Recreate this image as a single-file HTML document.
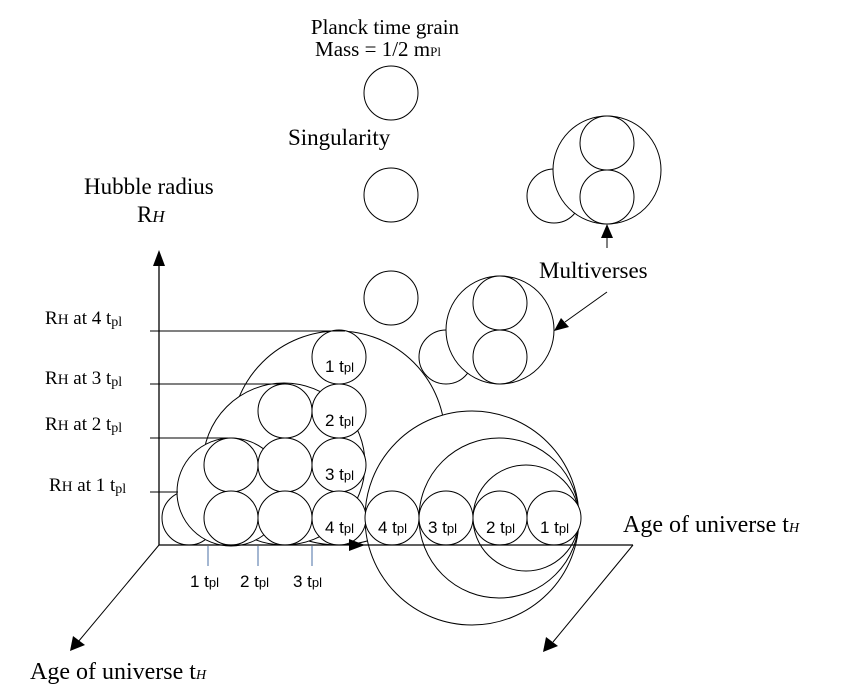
<!DOCTYPE html>
<html><head><meta charset="utf-8"><style>
html,body{margin:0;padding:0;background:#fff;}
svg{display:block;}
.s{font-family:"Liberation Serif",serif;fill:#000;}
.a{font-family:"Liberation Sans",sans-serif;fill:#000;}
</style></head><body>
<svg width="867" height="689" viewBox="0 0 867 689" xmlns="http://www.w3.org/2000/svg">
<g fill="#fff" stroke="#000" stroke-width="1">
<circle cx="391" cy="93" r="27"/>
<circle cx="391" cy="195" r="27"/>
<circle cx="391" cy="298" r="27"/>
<circle cx="554" cy="196" r="27"/>
<circle cx="607" cy="170" r="54"/>
<circle cx="607" cy="143" r="27"/>
<circle cx="607" cy="197" r="27"/>
<circle cx="446" cy="357" r="27"/>
<circle cx="500" cy="330" r="54"/>
<circle cx="500" cy="303" r="27"/>
<circle cx="500" cy="357" r="27"/>
<circle cx="338" cy="438" r="107"/>
<circle cx="284" cy="464" r="81"/>
<circle cx="472" cy="518" r="107"/>
<circle cx="499" cy="518" r="80"/>
<circle cx="526" cy="518" r="53"/>
<circle cx="189" cy="518" r="27"/>
<circle cx="231" cy="492" r="54"/>
<circle cx="231" cy="465" r="27"/>
<circle cx="231" cy="518" r="27"/>
<circle cx="285" cy="411" r="27"/>
<circle cx="285" cy="465" r="27"/>
<circle cx="285" cy="518" r="27"/>
<circle cx="339" cy="357" r="27"/>
<circle cx="339" cy="411" r="27"/>
<circle cx="339" cy="465" r="27"/>
<circle cx="339" cy="518" r="27"/>
<circle cx="392" cy="518" r="27"/>
<circle cx="446" cy="518" r="27"/>
<circle cx="500" cy="518" r="27"/>
<circle cx="554" cy="518" r="27"/>
</g>
<g fill="none" stroke="#000" stroke-width="1">
<line x1="159" y1="545" x2="633" y2="545" stroke-width="1.3"/>
<line x1="159" y1="545" x2="159" y2="262" stroke-width="1.3"/>
<line x1="159" y1="545" x2="78" y2="642"/>
<line x1="633" y1="545" x2="553" y2="642"/>
<line x1="150" y1="331" x2="345" y2="331"/>
<line x1="150" y1="384" x2="284" y2="384"/>
<line x1="150" y1="438" x2="228" y2="438"/>
<line x1="150" y1="492" x2="178" y2="492"/>
<line x1="607" y1="248" x2="607" y2="235"/>
<line x1="607" y1="292" x2="565" y2="322"/>
<g stroke="#4a6fa5">
<line x1="208" y1="546" x2="208" y2="566"/>
<line x1="258" y1="546" x2="258" y2="566"/>
<line x1="312" y1="546" x2="312" y2="566"/>
</g>
</g>
<g fill="#000">
<polygon points="159,250 153,266 165,266"/>
<polygon points="365,545 349,539 349,551"/>
<polygon points="70,651 73,636 85,645"/>
<polygon points="543,652 546,637 558,646"/>
<polygon points="607,224 601,238 613,238"/>
<polygon points="554,331 561,318 569,327"/>
</g>
<g class="s">
<text x="385" y="34" font-size="21" text-anchor="middle">Planck time grain</text>
<text x="378" y="56" font-size="21" text-anchor="middle">Mass = 1/2 m<tspan font-size="13">Pl</tspan></text>
<text x="288" y="145" font-size="23">Singularity</text>
<text x="84" y="194" font-size="23">Hubble radius</text>
<text x="137" y="222" font-size="23">R<tspan font-style="italic" font-size="17">H</tspan></text>
<text x="539" y="278" font-size="23">Multiverses</text>
<text x="45" y="324" font-size="19">R<tspan font-size="15">H</tspan> at 4 t<tspan font-size="14" dy="2">pl</tspan></text>
<text x="45" y="384" font-size="19">R<tspan font-size="15">H</tspan> at 3 t<tspan font-size="14" dy="2">pl</tspan></text>
<text x="45" y="430" font-size="19">R<tspan font-size="15">H</tspan> at 2 t<tspan font-size="14" dy="2">pl</tspan></text>
<text x="49" y="491" font-size="19">R<tspan font-size="15">H</tspan> at 1 t<tspan font-size="14" dy="2">pl</tspan></text>
<text x="623" y="532" font-size="24">Age of universe t<tspan font-style="italic" font-size="14">H</tspan></text>
<text x="30" y="679" font-size="24">Age of universe t<tspan font-style="italic" font-size="14">H</tspan></text>
</g>
<g class="a" font-size="17">
<text x="325" y="372">1 t<tspan font-size="13">pl</tspan></text>
<text x="325" y="426">2 t<tspan font-size="13">pl</tspan></text>
<text x="325" y="480">3 t<tspan font-size="13">pl</tspan></text>
<text x="325" y="533">4 t<tspan font-size="13">pl</tspan></text>
<text x="378" y="533">4 t<tspan font-size="13">pl</tspan></text>
<text x="428" y="533">3 t<tspan font-size="13">pl</tspan></text>
<text x="486" y="533">2 t<tspan font-size="13">pl</tspan></text>
<text x="540" y="533">1 t<tspan font-size="13">pl</tspan></text>
<text x="190" y="587">1 t<tspan font-size="13">pl</tspan></text>
<text x="240" y="587">2 t<tspan font-size="13">pl</tspan></text>
<text x="293" y="587">3 t<tspan font-size="13">pl</tspan></text>
</g>
</svg>
</body></html>
